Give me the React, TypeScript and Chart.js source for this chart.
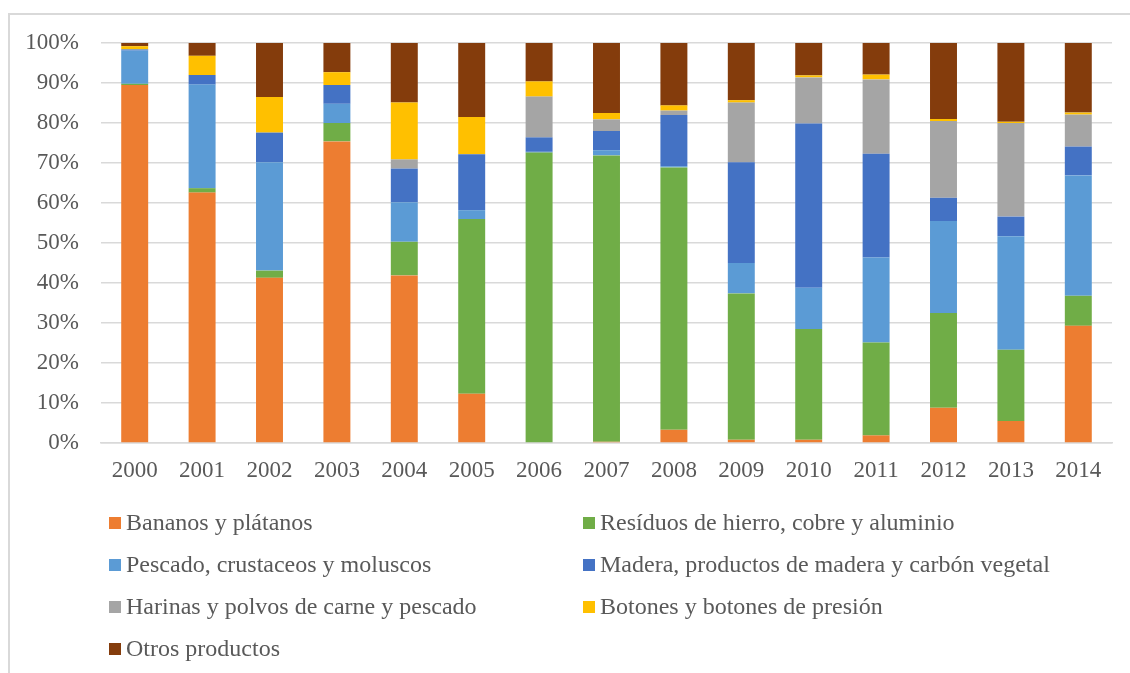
import React, { useEffect, useRef } from "react";
import { Chart, registerables } from "chart.js";
Chart.register(...registerables);

const years = ["2000", "2001", "2002", "2003", "2004", "2005", "2006", "2007", "2008", "2009", "2010", "2011", "2012", "2013", "2014"];

const bananos = [89.5, 62.6, 41.3, 75.4, 41.9, 12.3, 0, 0.3, 3.3, 0.8, 0.8, 1.9, 8.8, 5.5, 29.3];
const residuos = [0.3, 1.1, 1.8, 4.6, 8.4, 43.7, 72.6, 71.6, 65.6, 36.6, 27.7, 23.2, 23.7, 17.8, 7.5];
const pescado = [8.3, 25.9, 27.1, 4.8, 9.9, 2.2, 0.2, 1.3, 0.3, 7.6, 10.3, 21.3, 23.0, 28.4, 30.1];
const madera = [0.3, 2.4, 7.4, 4.7, 8.4, 14.0, 3.6, 4.8, 12.8, 25.2, 41.1, 25.9, 5.8, 4.9, 7.2];
const harinas = [0, 0, 0, 0, 2.3, 0, 10.2, 2.9, 1.1, 14.9, 11.5, 18.6, 19.2, 23.4, 8.0];
const botones = [0.8, 4.8, 8.9, 3.2, 14.2, 9.3, 3.8, 1.6, 1.3, 0.6, 0.5, 1.2, 0.5, 0.3, 0.5];
const otros = [0.8, 3.2, 13.5, 7.3, 14.9, 18.5, 9.6, 17.5, 15.6, 14.4, 8.1, 7.9, 19.0, 19.7, 17.4];

const seriesNames = [
  "Bananos y plátanos",
  "Resíduos de hierro, cobre y aluminio",
  "Pescado, crustaceos y moluscos",
  "Madera, productos de madera y carbón vegetal",
  "Harinas y polvos de carne y pescado",
  "Botones y botones de presión",
  "Otros productos",
];
const seriesValues = [bananos, residuos, pescado, madera, harinas, botones, otros];
const seriesColors = ["#ED7D31", "#70AD47", "#5B9BD5", "#4472C4", "#A5A5A5", "#FFC000", "#843C0C"];

const FONT = "'Liberation Serif', 'Times New Roman', serif";
const TEXT = "#595959";

export default function App() {
  const ref = useRef<HTMLCanvasElement>(null);

  useEffect(() => {
    const chart = new Chart(ref.current!, {
      type: "bar",
      data: {
        labels: years,
        datasets: seriesNames.map((name, i) => ({
          label: name,
          data: seriesValues[i],
          backgroundColor: seriesColors[i],
          borderWidth: 0,
          barPercentage: 0.4,
          categoryPercentage: 1,
        })),
      },
      options: {
        responsive: false,
        maintainAspectRatio: false,
        animation: false,
        layout: { padding: { left: 0, right: 18, top: 43, bottom: 170 } },
        plugins: { legend: { display: false }, tooltip: { enabled: false } },
        scales: {
          x: {
            stacked: true,
            grid: { display: false, drawTicks: false },
            border: { display: true, color: "#d9d9d9", width: 1.5 },
            ticks: { padding: 14, color: TEXT, font: { family: FONT, size: 23 } },
            afterFit: (s: any) => {
              s.height = 60;
            },
          },
          y: {
            stacked: true,
            min: 0,
            max: 100,
            ticks: {
              stepSize: 10,
              padding: 22,
              color: TEXT,
              font: { family: FONT, size: 23 },
              callback: (v: any) => v + "%",
            },
            grid: { color: "#d9d9d9", lineWidth: 1.5, drawTicks: false },
            border: { display: false },
            afterFit: (s: any) => {
              s.width = 101;
            },
          },
        },
      },
    });
    return () => chart.destroy();
  }, []);

  const rowsY = [530, 572, 614, 656];
  const colsX = [109, 583];

  return (
    <div style={{ position: "fixed", left: 0, top: 0, width: 1130, height: 673, overflow: "hidden", background: "#fff" }}>
      <div
        style={{
          position: "absolute",
          left: 8,
          top: 13,
          width: 1300,
          height: 900,
          border: "2px solid #d9d9d9",
          boxSizing: "border-box",
        }}
      />
      <canvas ref={ref} width={1130} height={673} style={{ position: "absolute", left: 0, top: 0, display: "block" }} />
      {seriesNames.map((name, i) => {
        const row = Math.floor(i / 2);
        const col = i % 2;
        const baseline = rowsY[row];
        const x = colsX[col];
        return (
          <React.Fragment key={name}>
            <div
              style={{
                position: "absolute",
                left: x,
                top: baseline - 13,
                width: 12,
                height: 12,
                background: seriesColors[i],
              }}
            />
            <div
              style={{
                position: "absolute",
                left: x + 17,
                top: baseline - 23.1,
                fontFamily: FONT,
                fontSize: 24,
                lineHeight: "30px",
                color: TEXT,
                whiteSpace: "nowrap",
              }}
            >
              {name}
            </div>
          </React.Fragment>
        );
      })}
    </div>
  );
}
